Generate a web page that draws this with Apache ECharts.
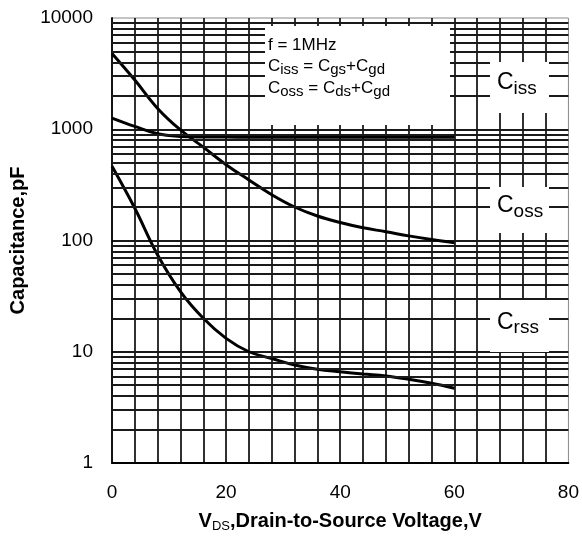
<!DOCTYPE html>
<html>
<head>
<meta charset="utf-8">
<title>Capacitance vs VDS</title>
<script src="https://cdn.jsdelivr.net/npm/echarts@6/dist/echarts.min.js"></script>
<style>
  html, body { margin: 0; padding: 0; background: #fff; }
  #chart { width: 582px; height: 538px; }
</style>
</head>
<body>
<div id="chart"></div>
<script>
/* ================================
   DATA
================================ */
const vds  = [0, 4, 8, 12, 16, 20, 24, 28, 32, 36, 40, 44, 48, 52, 56, 60];
const ciss = [1260, 1060, 910, 862, 852, 850, 848, 848, 848, 848, 848, 848, 848, 848, 848, 847];
const coss = [4800, 2770, 1540, 985, 690, 480, 350, 258, 200, 166, 145, 130, 120, 110, 102, 95.5];
const crss = [465, 195, 74, 34.7, 20, 13.2, 10, 8.7, 7.6, 6.95, 6.6, 6.3, 6.05, 5.65, 5.2, 4.7];

const xLabels = [0, 20, 40, 60, 80];
const yLabels = [1, 10, 100, 1000, 10000];
const minorGrid = [2, 3, 4, 5, 6, 7, 8, 9,
                   20, 30, 40, 50, 60, 70, 80, 90,
                   200, 300, 400, 500, 600, 700, 800, 900,
                   2000, 3000, 4000, 5000, 6000, 7000, 8000, 9000];

/* ================================
   STYLE
================================ */
const FONT = "'Liberation Sans', Arial, sans-serif";
const GRID_LINE = { color: "#1a1a1a", width: 1.8, type: "solid" };

function pairs(ys) {
  return vds.map((x, i) => [x, ys[i]]);
}

function curve(name, ys) {
  return {
    name: name,
    type: "line",
    data: pairs(ys),
    smooth: 0.4,
    symbol: "none",
    z: 3,
    lineStyle: { color: "#000", width: 3 },
    emphasis: { disabled: true }
  };
}

// text helpers for graphic labels
const mainRich = {
  m: { fontFamily: FONT, fontSize: 17, lineHeight: 22, fill: "#000" },
  s: { fontFamily: FONT, fontSize: 15, lineHeight: 13, verticalAlign: "bottom", fill: "#000" }
};
const tagRich = {
  m: { fontFamily: FONT, fontSize: 23, lineHeight: 30, fill: "#000" },
  s: { fontFamily: FONT, fontSize: 19, lineHeight: 14, verticalAlign: "bottom", fill: "#000" }
};

function label(text, x, y, rich) {
  return {
    type: "text",
    z: 11,
    silent: true,
    style: {
      text: text, x: x, y: y, rich: rich,
      align: "left", textAlign: "left",
      verticalAlign: "middle", textVerticalAlign: "middle"
    }
  };
}

function whiteBox(x, y, w, h) {
  return {
    type: "rect", z: 10, silent: true,
    shape: { x: x, y: y, width: w, height: h },
    style: { fill: "#fff" }
  };
}

/* ================================
   CHART
================================ */
const chart = echarts.init(document.getElementById("chart"));

chart.setOption({
  animation: false,
  backgroundColor: "#fff",
  grid: {
    left: 111, top: 18, right: 8, bottom: 75,
    show: true, borderColor: "#888", borderWidth: 1
  },
  xAxis: {
    type: "value",
    min: 0, max: 80, interval: 4,
    axisLine: { show: true, lineStyle: { color: "#000", width: 1.8 } },
    axisTick: { show: false },
    axisLabel: {
      fontFamily: FONT, fontSize: 19, color: "#000", margin: 20,
      formatter: v => (xLabels.indexOf(v) >= 0 ? String(v) : "")
    },
    splitLine: { show: true, showMinLine: false, showMaxLine: false, lineStyle: GRID_LINE },
    name: "{b|V}{s|DS}{b|,Drain-to-Source Voltage,V}",
    nameLocation: "middle",
    nameGap: 46,
    nameTextStyle: {
      rich: {
        b: { fontFamily: FONT, fontSize: 20, fontWeight: "bold", color: "#000", lineHeight: 24 },
        s: { fontFamily: FONT, fontSize: 13, color: "#000", lineHeight: 20, verticalAlign: "bottom" }
      }
    }
  },
  yAxis: {
    type: "log",
    logBase: 10,
    min: 1, max: 10000, interval: 1,
    axisLine: { show: true, lineStyle: { color: "#000", width: 1.8 } },
    axisTick: { show: false },
    axisLabel: {
      fontFamily: FONT, fontSize: 19, color: "#000", margin: 19,
      formatter: v => {
        const r = Math.round(v);
        return yLabels.indexOf(r) >= 0 ? String(r) : "";
      }
    },
    splitLine: { show: true, showMinLine: false, showMaxLine: false, lineStyle: GRID_LINE },
    name: "Capacitance,pF",
    nameLocation: "middle",
    nameGap: 84,
    nameTextStyle: { fontFamily: FONT, fontSize: 20, fontWeight: "bold", color: "#000" }
  },
  series: [
    {
      // minor horizontal grid lines of the log scale
      type: "line",
      data: [],
      z: 1,
      silent: true,
      markLine: {
        silent: true,
        symbol: ["none", "none"],
        label: { show: false },
        emphasis: { disabled: true },
        lineStyle: GRID_LINE,
        data: minorGrid.map(v => ({ yAxis: v }))
      }
    },
    curve("Ciss", ciss),
    curve("Coss", coss),
    curve("Crss", crss)
  ],
  graphic: [
    whiteBox(265, 26, 185, 99),
    label("{m|f = 1MHz}", 268, 45.8, mainRich),
    label("{m|C}{s|iss}{m| = C}{s|gs}{m|+C}{s|gd}", 268, 66.8, mainRich),
    label("{m|C}{s|oss}{m| = C}{s|ds}{m|+C}{s|gd}", 268, 88.3, mainRich),

    whiteBox(490, 62, 59, 51),
    label("{m|C}{s|iss}", 497, 82.8, tagRich),
    whiteBox(490, 187, 59, 46),
    label("{m|C}{s|oss}", 497, 206, tagRich),
    whiteBox(490, 300, 59, 52),
    label("{m|C}{s|rss}", 497, 322.6, tagRich)
  ]
});
</script>
</body>
</html>
